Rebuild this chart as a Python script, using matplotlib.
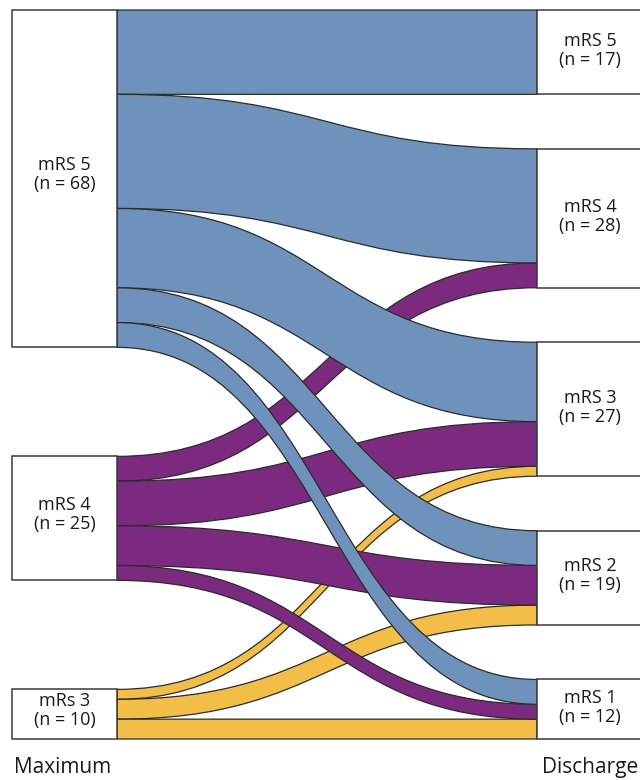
import matplotlib
matplotlib.use("Agg")
import matplotlib.pyplot as plt
from matplotlib.path import Path
from matplotlib.patches import PathPatch, Rectangle

# ---- data ----
left_labels = ["mRS 5", "mRS 4", "mRs 3"]
left_n = [68, 25, 10]
right_labels = ["mRS 5", "mRS 4", "mRS 3", "mRS 2", "mRS 1"]
right_n = [17, 28, 27, 19, 12]
# flows from each left node to right nodes (mRS 5, 4, 3, 2, 1)
flows_from_5 = [17, 23, 16, 7, 5]
flows_from_4 = [0, 5, 9, 8, 3]
flows_from_3 = [0, 0, 2, 4, 4]
flow_colors = ["#6F92BC", "#7B2A80", "#F2BE47"]
axis_titles = ["Maximum", "Discharge"]

flows = [flows_from_5, flows_from_4, flows_from_3]

plt.rcParams['font.family'] = ['Open Sans', 'DejaVu Sans']

W, H = 640, 780
fig = plt.figure(figsize=(W / 100, H / 100), dpi=100)
ax = fig.add_axes([0, 0, 1, 1])
ax.set_xlim(0, W)
ax.set_ylim(H, 0)
ax.axis("off")

top, bottom = 10.0, 739.0
total = sum(left_n)
right_pad = 54.5
ky = (bottom - top - right_pad * (len(right_n) - 1)) / total
left_pad = (bottom - top - ky * total) / (len(left_n) - 1)

lx0, lx1 = 12.0, 117.0
rx0, rx1 = 537.0, 644.0

# node positions
left_y = []
y = top
for n in left_n:
    left_y.append((y, y + n * ky))
    y += n * ky + left_pad
right_y = []
y = top
for n in right_n:
    right_y.append((y, y + n * ky))
    y += n * ky + right_pad

# link positions
src_off = [l[0] for l in left_y]
tgt_off = [r[0] for r in right_y]
links = []
for i, row in enumerate(flows):
    for j, v in enumerate(row):
        if v <= 0:
            continue
        s0 = src_off[i]; s1 = s0 + v * ky; src_off[i] = s1
        t0 = tgt_off[j]; t1 = t0 + v * ky; tgt_off[j] = t1
        links.append((i, j, s0, s1, t0, t1))

xm = (lx1 + rx0) / 2
# draw: yellow first, then purple, then blue on top
for i in [2, 1, 0]:
    for (si, j, s0, s1, t0, t1) in links:
        if si != i:
            continue
        verts = [(lx1, s0), (xm, s0), (xm, t0), (rx0, t0),
                 (rx0, t1), (xm, t1), (xm, s1), (lx1, s1), (lx1, s0)]
        codes = [Path.MOVETO, Path.CURVE4, Path.CURVE4, Path.CURVE4,
                 Path.LINETO, Path.CURVE4, Path.CURVE4, Path.CURVE4, Path.CLOSEPOLY]
        ax.add_patch(PathPatch(Path(verts, codes), facecolor=flow_colors[i],
                               edgecolor="#2b2b2b", lw=0.9, zorder=2 + (2 - i)))

for (y0, y1), lab, n in zip(left_y, left_labels, left_n):
    ax.add_patch(Rectangle((lx0, y0), lx1 - lx0, y1 - y0, facecolor="white",
                           edgecolor="#3a3a3a", lw=1.1, zorder=10))
    ax.text((lx0 + lx1) / 2, (y0 + y1) / 2 - 4, f"{lab}\n(n = {n})", ha="center",
            va="center", fontsize=13, linespacing=1.05, color="#1a1a1a", zorder=11)

for (y0, y1), lab, n in zip(right_y, right_labels, right_n):
    ax.add_patch(Rectangle((rx0, y0), rx1 - rx0, y1 - y0, facecolor="white",
                           edgecolor="#3a3a3a", lw=1.1, zorder=10))
    ax.text(590, (y0 + y1) / 2 - 2, f"{lab}\n(n = {n})", ha="center",
            va="center", fontsize=13, linespacing=1.05, color="#1a1a1a", zorder=11)

ax.text(14, 773, axis_titles[0], ha="left", va="baseline", fontsize=15, color="#1a1a1a")
ax.text(638, 773, axis_titles[1], ha="right", va="baseline", fontsize=15, color="#1a1a1a")

fig.savefig("out.png", dpi=100)
